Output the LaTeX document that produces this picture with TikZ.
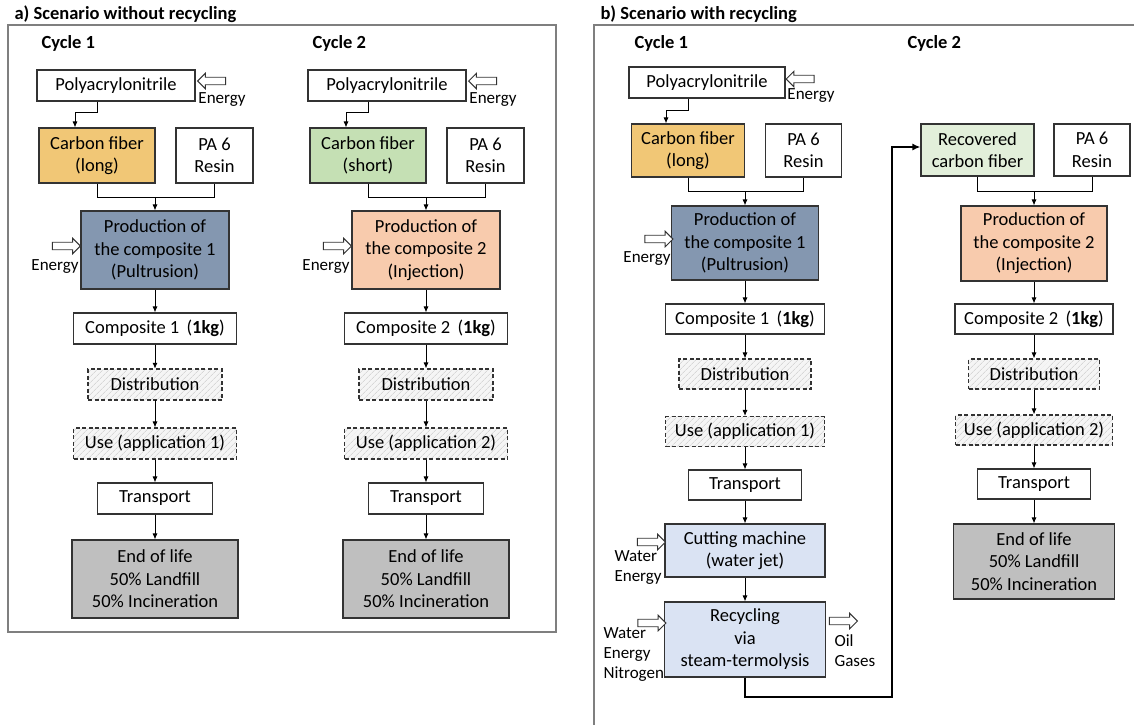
\documentclass[tikz,border=0pt]{standalone}
\usepackage{fontspec}
\setmainfont{Carlito}
\usetikzlibrary{arrows.meta,positioning,shapes.arrows,patterns.meta}
\tikzset{font=\fontsize{18.5}{22.5}\selectfont}
\tikzset{every node/.append style={transform shape=false}}

\definecolor{cfLong}{HTML}{F1C776}
\definecolor{cfShort}{HTML}{C5E0B4}
\definecolor{prodA}{HTML}{8497B0}
\definecolor{prodB}{HTML}{F8CBAD}
\definecolor{eolGray}{HTML}{BFBFBF}
\definecolor{recBlue}{HTML}{DAE3F3}
\definecolor{recGreen}{HTML}{E2EFDA}
\definecolor{frameGray}{HTML}{7F7F7F}

\tikzset{
  box/.style={draw=black!80, line width=1.1pt, inner sep=0pt, align=center},
  hatchbox/.style={box, dash pattern=on 4pt off 2.5pt, preaction={fill=black!4},
    pattern={Lines[angle=45,distance=4pt,line width=0.5pt]}, pattern color=black!22},
  arr/.style={-{Latex[length=6pt,width=5pt]}, line width=0.9pt},
  bigarr/.style={-{Latex[length=8pt,width=7pt]}, line width=2pt},
  inarrow/.style={single arrow, draw=black!80, fill=white, line width=0.9pt,
    inner sep=3.3pt, minimum height=28pt, single arrow head extend=4pt},
  small/.style={font=\fontsize{17}{20}\selectfont},
  ttl/.style={font=\fontsize{18.5}{22}\selectfont\bfseries, anchor=west},
  frame/.style={draw=frameGray, line width=1.5pt},
}

\begin{document}
\begin{tikzpicture}[x=1pt,y=-1pt]
  \useasboundingbox (0,0) rectangle (1134,724);
  \clip (0,0) rectangle (1134,724);
  \fill[white] (0,0) rectangle (1134,724);

  % panels
  \draw[frame] (8,25) rectangle (556,632);
  \draw[frame] (594,25) rectangle (1145,735);
  \node[ttl] (ttlA) at (11,14) {a) Scenario without recycling};
  \node[ttl] (ttlB) at (597,14) {b) Scenario with recycling};

  % a) both cycles
  \foreach \xO/\n/\cfc/\cft/\prc/\prt in
    {0/1/cfLong/long/prodA/Pultrusion, 271/2/cfShort/short/prodB/Injection}{
    \node[ttl] (cyc\n) at (38+\xO,43) {Cycle \n};
    \node[box, minimum width=158, minimum height=31] (poly\n) at (116+\xO,85.5) {Polyacrylonitrile};
    \node[inarrow, shape border rotate=180] (eP\n) at (213.5+\xO,81) {};
    \node[small] (ePt\n) at (222+\xO,100) {Energy};
    \node[box, fill=\cfc, minimum width=116, minimum height=55] (cf\n) at (97+\xO,155.5) {Carbon fiber\\(\cft)};
    \node[box, minimum width=77, minimum height=55] (pa\n) at (214.5+\xO,155.5) {PA 6\\Resin};
    \node[box, fill=\prc, minimum width=148, minimum height=78] (prod\n) at (155+\xO,250) {Production of\\the composite \n\\(\prt)};
    \node[inarrow] (eC\n) at (64.5+\xO,246) {};
    \node[small] (eCt\n) at (55+\xO,266) {Energy};
    \node[box, minimum width=163, minimum height=31] (comp\n) at (155+\xO,328.5) {Composite \n\, (\textbf{1kg})};
    \node[hatchbox, minimum width=134, minimum height=31] (dist\n) at (155+\xO,384.5) {Distribution};
    \node[hatchbox, minimum width=163, minimum height=31] (use\n) at (155+\xO,443.5) {Use (application \n)};
    \node[box, minimum width=115, minimum height=31] (trans\n) at (155+\xO,498.5) {Transport};
    \node[box, fill=eolGray, minimum width=166, minimum height=78] (eol\n) at (155+\xO,579) {End of life\\50\% Landfill\\50\% Incineration};

    \draw[arr] (poly\n.south -| cf\n.north) -- ++(0,11) -| ([xshift=-22]cf\n.north);
    \draw[line width=0.9pt] (cf\n.south) -- ++(0,14) coordinate (j\n) -| (pa\n.south);
    \draw[arr] (j\n -| prod\n.north) -- (prod\n.north);
    \draw[arr] (prod\n) -- (comp\n);
    \draw[arr] (comp\n) -- (dist\n);
    \draw[arr] (dist\n) -- (use\n);
    \draw[arr] (use\n) -- (trans\n);
    \draw[arr] (trans\n) -- (eol\n);
  }

  % b) cycle 1
  \node[ttl] (cycR1) at (631,43) {Cycle 1};
  \node[box, minimum width=156, minimum height=31] (polyR) at (707,82.5) {Polyacrylonitrile};
  \node[inarrow, shape border rotate=180] (ePR) at (802,79) {};
  \node[small] (ePRt) at (811,96) {Energy};
  \node[box, fill=cfLong, minimum width=113, minimum height=53] (cfR) at (688,150.5) {Carbon fiber\\(long)};
  \node[box, minimum width=76, minimum height=53] (paR1) at (803.5,150.5) {PA 6\\Resin};
  \node[box, fill=prodA, minimum width=147, minimum height=74] (prodR1) at (745,243) {Production of\\the composite 1\\(Pultrusion)};
  \node[inarrow] (eCR) at (657,239) {};
  \node[small] (eCRt) at (647,258) {Energy};
  \node[box, minimum width=159, minimum height=30] (compR1) at (745,319) {Composite 1\, (\textbf{1kg})};
  \node[hatchbox, minimum width=132, minimum height=30] (distR1) at (745,374) {Distribution};
  \node[hatchbox, minimum width=159, minimum height=30] (useR1) at (745,431.5) {Use (application 1)};
  \node[box, minimum width=113, minimum height=30] (transR1) at (745,485) {Transport};
  \node[box, fill=recBlue, minimum width=160, minimum height=53] (cut) at (745,550.5) {Cutting machine\\(water jet)};
  \node[inarrow] (inCut) at (649.5,542) {};
  \node[small, anchor=west, align=left] (inCutt) at (611,567) {Water\\Energy};
  \node[box, fill=recBlue, minimum width=161, minimum height=75] (recyc) at (745,639.5) {Recycling\\via\\steam-termolysis};
  \node[inarrow] (inRec) at (650,623) {};
  \node[small, anchor=west, align=left] (inRect) at (600,654) {Water\\Energy\\Nitrogen};
  \node[inarrow] (outRec) at (841.5,621) {};
  \node[small, anchor=west, align=left] (outRect) at (831,650.5) {Oil\\Gases};

  \draw[arr] (polyR.south -| cfR.north) -- ++(0,12) -| ([xshift=-22]cfR.north);
  \draw[line width=0.9pt] (cfR.south) -- ++(0,14) coordinate (jR1) -| (paR1.south);
  \draw[arr] (jR1 -| prodR1.north) -- (prodR1.north);
  \draw[arr] (prodR1) -- (compR1);
  \draw[arr] (compR1) -- (distR1);
  \draw[arr] (distR1) -- (useR1);
  \draw[arr] (useR1) -- (transR1);
  \draw[arr] (transR1) -- (cut);
  \draw[arr] (cut) -- (recyc);

  % b) cycle 2
  \node[ttl] (cycR2) at (904,43) {Cycle 2};
  \node[box, fill=recGreen, minimum width=113, minimum height=52] (rec) at (977.5,150) {Recovered\\carbon fiber};
  \node[box, minimum width=76, minimum height=52] (paR2) at (1092,150) {PA 6\\Resin};
  \node[box, fill=prodB, minimum width=146, minimum height=75] (prodR2) at (1034,243.5) {Production of\\the composite 2\\(Injection)};
  \node[box, minimum width=158, minimum height=30] (compR2) at (1034,319) {Composite 2\, (\textbf{1kg})};
  \node[hatchbox, minimum width=131, minimum height=30] (distR2) at (1034,374) {Distribution};
  \node[hatchbox, minimum width=157, minimum height=30] (useR2) at (1034,430) {Use (application 2)};
  \node[box, minimum width=113, minimum height=30] (transR2) at (1034,484) {Transport};
  \node[box, fill=eolGray, minimum width=161, minimum height=75] (eolR2) at (1034,561.5) {End of life\\50\% Landfill\\50\% Incineration};

  \draw[line width=0.9pt] (rec.south) -- ++(0,15) coordinate (jR2) -| (paR2.south);
  \draw[arr] (jR2 -| prodR2.north) -- (prodR2.north);
  \draw[arr] (prodR2) -- (compR2);
  \draw[arr] (compR2) -- (distR2);
  \draw[arr] (distR2) -- (useR2);
  \draw[arr] (useR2) -- (transR2);
  \draw[arr] (transR2) -- (eolR2);

  % recycling loop
  \coordinate (loopR) at (892,697);
  \draw[bigarr] (recyc.south) |- (loopR) |- ([yshift=3pt]rec.west);
\end{tikzpicture}
\end{document}
